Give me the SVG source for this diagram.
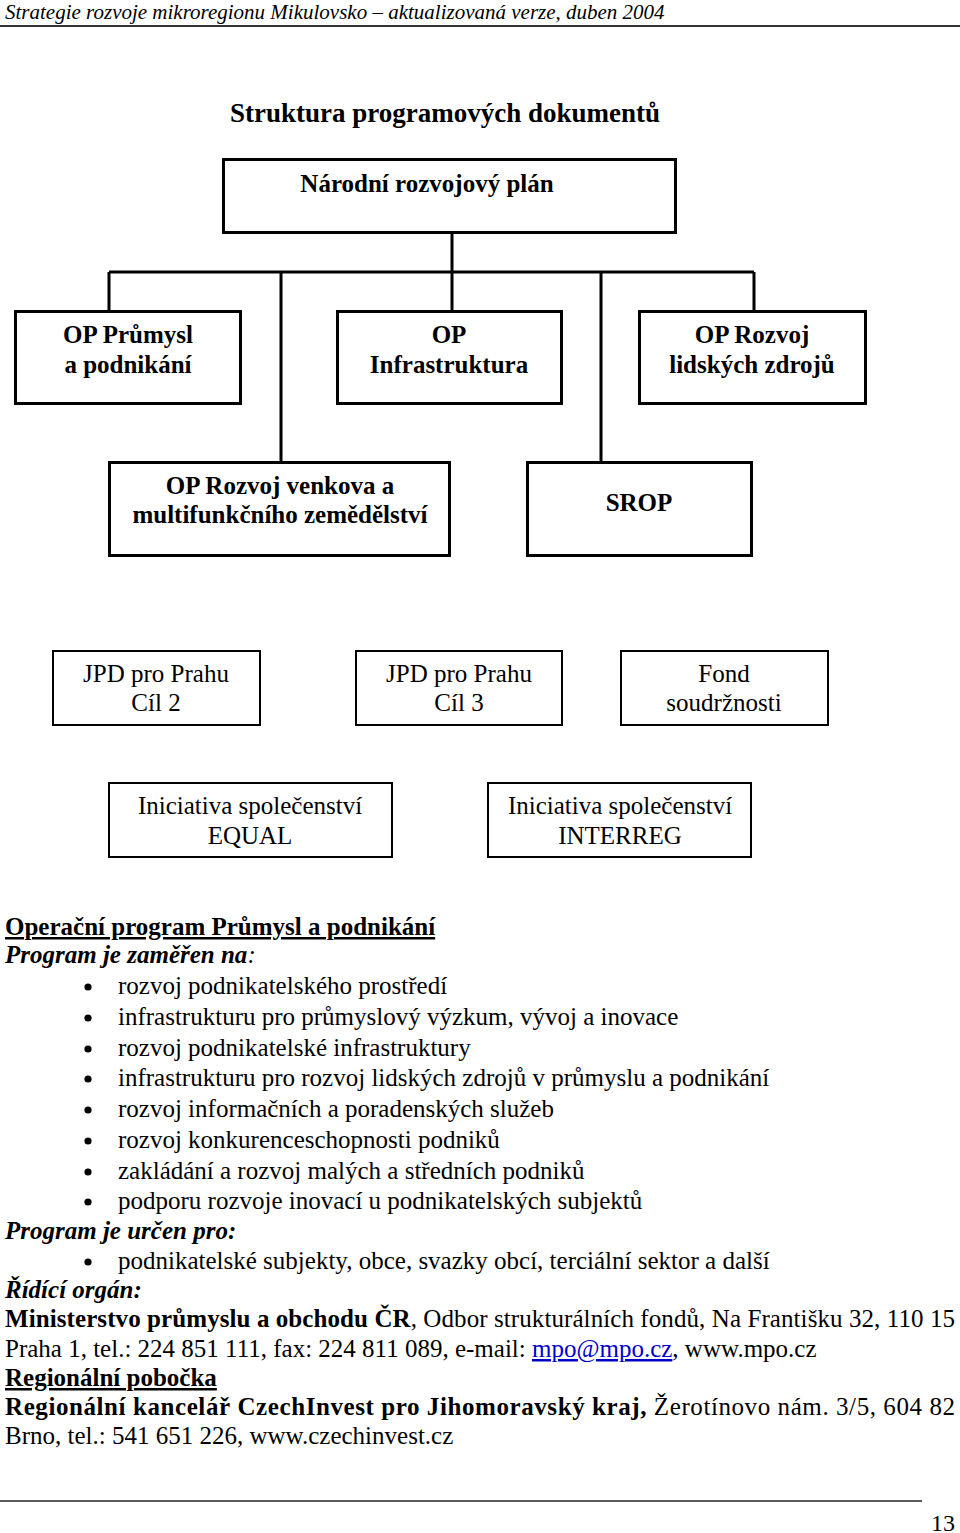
<svg xmlns="http://www.w3.org/2000/svg" width="960" height="1533" viewBox="0 0 960 1533">
<style>
text{font-family:"Liberation Serif","Times New Roman",serif;fill:#000}
.hdr{font-size:21px;font-style:italic}
.title{font-size:27px;font-weight:bold}
.bt{font-size:25px;font-weight:bold;text-anchor:middle}
.rt{font-size:25px;text-anchor:middle}
.body{font-size:25px}
.b{font-weight:bold}
.bi{font-weight:bold;font-style:italic}
.u{text-decoration:underline}
.box3{fill:#fff;stroke:#000;stroke-width:3}
.box2{fill:#fff;stroke:#000;stroke-width:2}
.con{stroke:#000;stroke-width:3;fill:none}
</style>
<rect width="960" height="1533" fill="#fff"/>
<text class="hdr" x="5" y="19">Strategie rozvoje mikroregionu Mikulovsko – aktualizovaná verze, duben 2004</text>
<line x1="0" y1="26" x2="960" y2="26" stroke="#333" stroke-width="2"/>
<text class="title" x="445" y="122" text-anchor="middle">Struktura programových dokumentů</text>

<g id="connectors">
<path class="con" d="M452 234V272M109 272H754M109 272V310M281 272V461M452 272V310M601 272V461M754 272V310"/>
</g>

<g id="nrp"><rect class="box3" x="223.5" y="159.5" width="452" height="73"/><text class="bt" x="427" y="192">Národní rozvojový plán</text></g>
<g id="op-prumysl"><rect class="box3" x="15.5" y="311.5" width="225" height="92"/><text class="bt" x="128" y="343">OP Průmysl</text><text class="bt" x="128" y="373">a podnikání</text></g>
<g id="op-infra"><rect class="box3" x="337.5" y="311.5" width="224" height="92"/><text class="bt" x="449" y="343">OP</text><text class="bt" x="449" y="373">Infrastruktura</text></g>
<g id="op-rlz"><rect class="box3" x="639.5" y="311.5" width="226" height="92"/><text class="bt" x="752" y="343">OP Rozvoj</text><text class="bt" x="752" y="373">lidských zdrojů</text></g>
<g id="op-venkov"><rect class="box3" x="109.5" y="462.5" width="340" height="93"/><text class="bt" x="280" y="494">OP Rozvoj venkova a</text><text class="bt" x="280" y="523">multifunkčního zemědělství</text></g>
<g id="srop"><rect class="box3" x="527.5" y="462.5" width="224" height="93"/><text class="bt" x="639" y="511">SROP</text></g>
<g id="jpd2"><rect class="box2" x="53" y="651" width="207" height="74"/><text class="rt" x="156" y="682">JPD pro Prahu</text><text class="rt" x="156" y="711">Cíl 2</text></g>
<g id="jpd3"><rect class="box2" x="356" y="651" width="206" height="74"/><text class="rt" x="459" y="682">JPD pro Prahu</text><text class="rt" x="459" y="711">Cíl 3</text></g>
<g id="fond"><rect class="box2" x="621" y="651" width="207" height="74"/><text class="rt" x="724" y="682">Fond</text><text class="rt" x="724" y="711">soudržnosti</text></g>
<g id="equal"><rect class="box2" x="109" y="783" width="283" height="74"/><text class="rt" x="250" y="814">Iniciativa společenství</text><text class="rt" x="250" y="844">EQUAL</text></g>
<g id="interreg"><rect class="box2" x="488" y="783" width="263" height="74"/><text class="rt" x="620" y="814">Iniciativa společenství</text><text class="rt" x="620" y="844">INTERREG</text></g>

<g id="text-body" class="body">
<text x="5" y="935" class="b u">Operační program Průmysl a podnikání</text>
<text x="5" y="963"><tspan class="bi">Program je zaměřen na</tspan><tspan font-style="italic">:</tspan></text>
<g fill="#000">
<circle cx="88" cy="987" r="3.6"/><circle cx="88" cy="1018" r="3.6"/><circle cx="88" cy="1049" r="3.6"/><circle cx="88" cy="1079" r="3.6"/><circle cx="88" cy="1110" r="3.6"/><circle cx="88" cy="1141" r="3.6"/><circle cx="88" cy="1172" r="3.6"/><circle cx="88" cy="1202" r="3.6"/><circle cx="88" cy="1262" r="3.6"/>
</g>
<text x="118" y="994">rozvoj podnikatelského prostředí</text>
<text x="118" y="1025">infrastrukturu pro průmyslový výzkum, vývoj a inovace</text>
<text x="118" y="1056">rozvoj podnikatelské infrastruktury</text>
<text x="118" y="1086">infrastrukturu pro rozvoj lidských zdrojů v průmyslu a podnikání</text>
<text x="118" y="1117">rozvoj informačních a poradenských služeb</text>
<text x="118" y="1148">rozvoj konkurenceschopnosti podniků</text>
<text x="118" y="1179">zakládání a rozvoj malých a středních podniků</text>
<text x="118" y="1209">podporu rozvoje inovací u podnikatelských subjektů</text>
<text x="5" y="1239" class="bi">Program je určen pro:</text>
<text x="118" y="1269">podnikatelské subjekty, obce, svazky obcí, terciální sektor a další</text>
<text x="5" y="1298" class="bi">Řídící orgán:</text>
<text x="5" y="1327" textLength="950" lengthAdjust="spacing"><tspan class="b">Ministerstvo průmyslu a obchodu ČR</tspan>, Odbor strukturálních fondů, Na Františku 32, 110 15</text>
<text x="5" y="1357">Praha 1, tel.: 224 851 111, fax: 224 811 089, e-mail: <tspan fill="#0000cc" class="u">mpo@mpo.cz</tspan>, www.mpo.cz</text>
<text x="5" y="1386" class="b u">Regionální pobočka</text>
<text x="5" y="1415" textLength="950" lengthAdjust="spacing"><tspan class="b">Regionální kancelář CzechInvest pro Jihomoravský kraj,</tspan> Žerotínovo nám. 3/5, 604 82</text>
<text x="5" y="1444">Brno, tel.: 541 651 226, www.czechinvest.cz</text>
</g>

<line x1="0" y1="1501" x2="922" y2="1501" stroke="#222" stroke-width="1.5"/>
<text x="955" y="1531" font-size="24" text-anchor="end">13</text>
</svg>
